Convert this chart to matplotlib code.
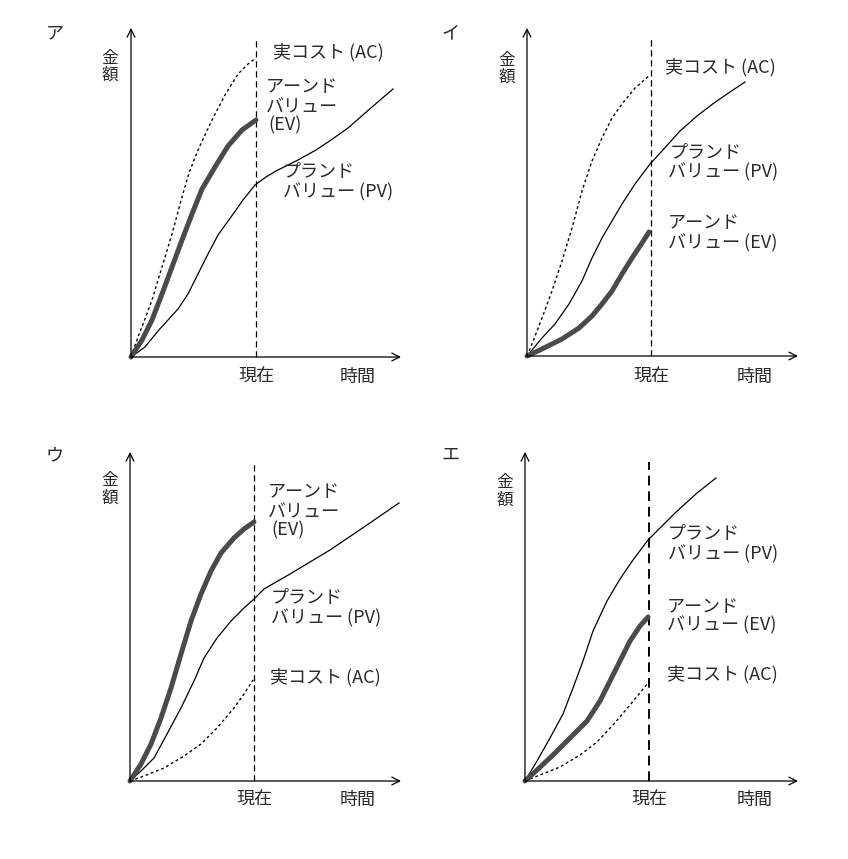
import matplotlib
matplotlib.use("Agg")
import matplotlib.pyplot as plt

plt.rcParams['font.family'] = ['Noto Sans CJK JP', 'DejaVu Sans']

# 各パネルの曲線 (時間, 金額) ― 原点からの距離(px)で読み取った値
# ア
pv_a = [(0, 0), (14, 10), (27, 26), (37, 37), (47, 48), (57, 63), (67, 83), (77, 103),
        (87, 122), (100, 140), (112, 157), (124, 172), (135, 180), (145, 186), (167, 197),
        (185, 207), (200, 217), (217, 229), (233, 243), (248, 256), (262, 268)]
ev_a = [(0, 0), (11, 17), (21, 37), (31, 63), (41, 90), (51, 117), (61, 143), (71, 168),
        (84, 190), (97, 211), (111, 227), (125, 237)]
ac_a = [(0, 0), (7, 20), (14, 38), (21, 57), (31, 90), (41, 123), (51, 160), (58, 184),
        (67, 207), (81, 237), (94, 262), (107, 283), (117, 293), (125, 299)]
# イ
pv_i = [(0, 0), (15, 18), (28, 32), (42, 52), (55, 75), (65, 98), (75, 118), (85, 135),
        (95, 152), (108, 172), (123, 192), (135, 205), (153, 225), (170, 240), (187, 253),
        (203, 264), (218, 274)]
ev_i = [(0, 0), (15, 7), (35, 17), (52, 28), (65, 40), (75, 52), (85, 65), (95, 82),
        (105, 98), (115, 113), (122, 124)]
ac_i = [(0, 0), (5, 12), (15, 38), (25, 65), (35, 95), (45, 128), (55, 165), (65, 195),
        (75, 218), (85, 238), (95, 252), (108, 268), (123, 281)]
# ウ
pv_u = [(0, 0), (11, 10), (24, 23), (37, 47), (51, 73), (64, 100), (74, 123), (87, 143),
        (101, 160), (114, 173), (124, 182), (134, 192), (160, 207), (200, 231), (234, 254),
        (269, 278)]
ev_u = [(0, 0), (11, 17), (21, 37), (31, 63), (41, 93), (51, 127), (61, 160), (71, 187),
        (81, 210), (91, 228), (104, 243), (114, 252), (124, 259)]
ac_u = [(0, 0), (14, 5), (34, 13), (54, 25), (71, 37), (87, 53), (104, 73), (114, 87),
        (123, 101)]
# エ
pv_e = [(0, 0), (12, 20), (25, 43), (38, 67), (48, 93), (58, 120), (68, 150), (82, 180),
        (95, 202), (108, 221), (123, 241), (135, 253), (150, 268), (172, 288), (191, 303)]
ev_e = [(0, 0), (12, 11), (28, 26), (45, 43), (62, 60), (75, 80), (85, 100), (95, 120),
        (105, 140), (115, 155), (123, 164)]
ac_e = [(0, 0), (15, 6), (35, 14), (55, 26), (72, 39), (88, 56), (105, 76), (123, 98)]

# 各パネル: 原点位置(図のpx), 線データ, ラベル
panels = [
    dict(name='ア', origin=(131, 357), pv=pv_a, ev=ev_a, ac=ac_a,
         now=125, ytop=329, xtip=270, dtop=319, dash_lw=0.9,
         labels=[('実コスト (AC)', 142, 305), ('アーンド', 135, 270), ('バリュー', 135, 250),
                 ('(EV)', 137, 232), ('プランド', 152, 185), ('バリュー (PV)', 152, 165)],
         kin=(-21, 299, 282), tag=(-76, 324), tlabel=(227, -20)),
    dict(name='イ', origin=(527, 356), pv=pv_i, ev=ev_i, ac=ac_i,
         now=124, ytop=328, xtip=271, dtop=318, dash_lw=0.9,
         labels=[('実コスト (AC)', 138, 289), ('プランド', 143, 203), ('バリュー (PV)', 141, 184),
                 ('アーンド', 141, 133), ('バリュー (EV)', 141, 113)],
         kin=(-20, 296, 279), tag=(-77, 323), tlabel=(228, -21)),
    dict(name='ウ', origin=(130, 781), pv=pv_u, ev=ev_u, ac=ac_u,
         now=124, ytop=329, xtip=271, dtop=319, dash_lw=0.9,
         labels=[('アーンド', 138, 289), ('バリュー', 138, 269), ('(EV)', 141, 251),
                 ('プランド', 141, 183), ('バリュー (PV)', 141, 163), ('実コスト (AC)', 140, 104)],
         kin=(-20, 301, 283), tag=(-75, 326), tlabel=(228, -19)),
    dict(name='エ', origin=(525, 781), pv=pv_e, ev=ev_e, ac=ac_e,
         now=124, ytop=329, xtip=273, dtop=319, dash_lw=1.4,
         labels=[('プランド', 143, 247), ('バリュー (PV)', 143, 227), ('アーンド', 142, 174),
                 ('バリュー (EV)', 142, 156), ('実コスト (AC)', 142, 107)],
         kin=(-20, 299, 281), tag=(-75, 326), tlabel=(230, -19)),
]

W, H = 848, 859
fig = plt.figure(figsize=(W / 100, H / 100), dpi=100)
fig.patch.set_facecolor('white')

FS = 13
TXT = '#2a2a2a'
for p in panels:
    ox, oy = p['origin']
    x0, x1, y0, y1 = -90, 310, -40, 345
    ax = fig.add_axes([(ox + x0) / W, (H - (oy - y0)) / H, (x1 - x0) / W, (y1 - y0) / H])
    ax.set_xlim(x0, x1)
    ax.set_ylim(y0, y1)
    ax.axis('off')

    # 軸(矢印)
    arrow = dict(arrowstyle='->', lw=0.9, color='black', mutation_scale=14, shrinkA=0, shrinkB=0)
    ax.annotate('', xy=(0, p['ytop']), xytext=(0, 0), arrowprops=arrow)
    ax.annotate('', xy=(p['xtip'], 0), xytext=(0, 0), arrowprops=arrow)

    # 現在の破線
    ax.plot([p['now'], p['now']], [0, p['dtop']], color='black', lw=p['dash_lw'],
            linestyle=(0, (5, 3)))

    t, v = zip(*p['pv'])
    ax.plot(t, v, color='black', lw=0.9, solid_joinstyle='round')
    t, v = zip(*p['ac'])
    ax.plot(t, v, color='black', lw=1.0, linestyle=(0, (2, 2)))
    t, v = zip(*p['ev'])
    ax.plot(t, v, color='#4a4a4a', lw=3.6, solid_capstyle='round', solid_joinstyle='round')

    for s, tx, ty in p['labels']:
        ax.text(tx, ty, s, fontsize=FS, ha='left', va='center', color=TXT)

    kx, k1, k2 = p['kin']
    ax.text(kx, k1, '金', fontsize=FS - 1, ha='center', va='center', color=TXT)
    ax.text(kx, k2, '額', fontsize=FS - 1, ha='center', va='center', color=TXT)
    ax.text(p['tag'][0], p['tag'][1], p['name'], fontsize=FS, ha='center', va='center',
            color=TXT)
    ax.text(p['now'], p['tlabel'][1], '現在', fontsize=FS, ha='center', va='center', color=TXT)
    ax.text(p['tlabel'][0], p['tlabel'][1], '時間', fontsize=FS, ha='center', va='center',
            color=TXT)

fig.savefig('out.png', dpi=100, facecolor='white')
